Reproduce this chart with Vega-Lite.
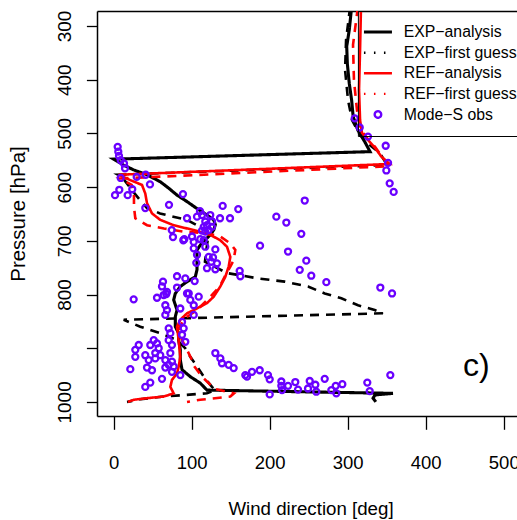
{
  "$schema": "https://vega.github.io/schema/vega-lite/v6.json",
  "width": 420,
  "height": 405,
  "autosize": {"type": "none"},
  "padding": {"left": 97, "top": 11, "right": 0, "bottom": 104},
  "background": "white",
  "config": {
    "font": "Liberation Sans",
    "view": {"stroke": null},
    "axis": {
      "domainColor": "black", "domainWidth": 1.5,
      "tickColor": "black", "tickWidth": 1.3,
      "labelColor": "black", "titleColor": "black",
      "labelFont": "Liberation Sans", "titleFont": "Liberation Sans",
      "titleFontWeight": "normal", "grid": false,
      "labelFlush": false, "labelOverlap": false
    },
    "legend": {
      "padding": 13.2,
      "strokeColor": "black",
      "symbolSize": 100,
      "symbolStrokeWidth": 2.5,
      "symbolOffset": -1.05,
      "labelOffset": 17.9,
      "labelFontSize": 15.8,
      "labelFont": "Liberation Sans",
      "labelColor": "black",
      "labelLimit": 0,
      "rowPadding": 3.6
    }
  },
  "datasets": {
    "profiles": [
      {"s": "EXP−analysis", "i": 0, "d": 305, "p": 265},
      {"s": "EXP−analysis", "i": 1, "d": 302, "p": 307},
      {"s": "EXP−analysis", "i": 2, "d": 298.7, "p": 338},
      {"s": "EXP−analysis", "i": 3, "d": 299.5, "p": 370},
      {"s": "EXP−analysis", "i": 4, "d": 302, "p": 407},
      {"s": "EXP−analysis", "i": 5, "d": 305, "p": 438},
      {"s": "EXP−analysis", "i": 6, "d": 307, "p": 469},
      {"s": "EXP−analysis", "i": 7, "d": 313, "p": 494},
      {"s": "EXP−analysis", "i": 8, "d": 322, "p": 516},
      {"s": "EXP−analysis", "i": 9, "d": 328.6, "p": 534},
      {"s": "EXP−analysis", "i": 10, "d": 0, "p": 548},
      {"s": "EXP−analysis", "i": 11, "d": 12.8, "p": 559},
      {"s": "EXP−analysis", "i": 12, "d": 25.6, "p": 568},
      {"s": "EXP−analysis", "i": 13, "d": 42.7, "p": 577},
      {"s": "EXP−analysis", "i": 14, "d": 59.7, "p": 590},
      {"s": "EXP−analysis", "i": 15, "d": 70.5, "p": 602},
      {"s": "EXP−analysis", "i": 16, "d": 81.2, "p": 615},
      {"s": "EXP−analysis", "i": 17, "d": 94, "p": 627},
      {"s": "EXP−analysis", "i": 18, "d": 106.8, "p": 640},
      {"s": "EXP−analysis", "i": 19, "d": 119.6, "p": 652},
      {"s": "EXP−analysis", "i": 20, "d": 128.2, "p": 661},
      {"s": "EXP−analysis", "i": 21, "d": 130.3, "p": 670},
      {"s": "EXP−analysis", "i": 22, "d": 128.2, "p": 680},
      {"s": "EXP−analysis", "i": 23, "d": 123.8, "p": 689},
      {"s": "EXP−analysis", "i": 24, "d": 117.4, "p": 698},
      {"s": "EXP−analysis", "i": 25, "d": 111, "p": 708},
      {"s": "EXP−analysis", "i": 26, "d": 106.8, "p": 717},
      {"s": "EXP−analysis", "i": 27, "d": 106.8, "p": 736},
      {"s": "EXP−analysis", "i": 28, "d": 106.8, "p": 754},
      {"s": "EXP−analysis", "i": 29, "d": 104.6, "p": 767},
      {"s": "EXP−analysis", "i": 30, "d": 94, "p": 776},
      {"s": "EXP−analysis", "i": 31, "d": 85.4, "p": 785},
      {"s": "EXP−analysis", "i": 32, "d": 79, "p": 798},
      {"s": "EXP−analysis", "i": 33, "d": 76.9, "p": 810},
      {"s": "EXP−analysis", "i": 34, "d": 81.2, "p": 829},
      {"s": "EXP−analysis", "i": 35, "d": 79, "p": 841},
      {"s": "EXP−analysis", "i": 36, "d": 79, "p": 860},
      {"s": "EXP−analysis", "i": 37, "d": 83.3, "p": 872},
      {"s": "EXP−analysis", "i": 38, "d": 83.3, "p": 885},
      {"s": "EXP−analysis", "i": 39, "d": 85.4, "p": 903},
      {"s": "EXP−analysis", "i": 40, "d": 85.4, "p": 922},
      {"s": "EXP−analysis", "i": 41, "d": 87.6, "p": 940},
      {"s": "EXP−analysis", "i": 42, "d": 98.2, "p": 953},
      {"s": "EXP−analysis", "i": 43, "d": 111, "p": 965},
      {"s": "EXP−analysis", "i": 44, "d": 119.6, "p": 978},
      {"s": "EXP−analysis", "i": 45, "d": 358, "p": 984},
      {"s": "EXP−analysis", "i": 46, "d": 335, "p": 987},
      {"s": "EXP−analysis", "i": 47, "d": 332.5, "p": 993},
      {"s": "EXP−analysis", "i": 48, "d": 336, "p": 1000},

      {"s": "EXP−first guess", "i": 0, "d": 303, "p": 265},
      {"s": "EXP−first guess", "i": 1, "d": 297.9, "p": 326},
      {"s": "EXP−first guess", "i": 2, "d": 296.6, "p": 382},
      {"s": "EXP−first guess", "i": 3, "d": 300.4, "p": 438},
      {"s": "EXP−first guess", "i": 4, "d": 305.5, "p": 475},
      {"s": "EXP−first guess", "i": 5, "d": 315.8, "p": 503},
      {"s": "EXP−first guess", "i": 6, "d": 328.6, "p": 522},
      {"s": "EXP−first guess", "i": 7, "d": 341.4, "p": 537},
      {"s": "EXP−first guess", "i": 8, "d": 350.4, "p": 559},
      {"s": "EXP−first guess", "i": 9, "d": 5.5, "p": 577},
      {"s": "EXP−first guess", "i": 10, "d": 10.6, "p": 581},
      {"s": "EXP−first guess", "i": 11, "d": 23, "p": 605},
      {"s": "EXP−first guess", "i": 12, "d": 33.7, "p": 624},
      {"s": "EXP−first guess", "i": 13, "d": 42.7, "p": 639},
      {"s": "EXP−first guess", "i": 14, "d": 59.4, "p": 649},
      {"s": "EXP−first guess", "i": 15, "d": 76.4, "p": 655},
      {"s": "EXP−first guess", "i": 16, "d": 94, "p": 661},
      {"s": "EXP−first guess", "i": 17, "d": 110.6, "p": 674},
      {"s": "EXP−first guess", "i": 18, "d": 121.8, "p": 686},
      {"s": "EXP−first guess", "i": 19, "d": 119.6, "p": 708},
      {"s": "EXP−first guess", "i": 20, "d": 117, "p": 739},
      {"s": "EXP−first guess", "i": 21, "d": 145.2, "p": 760},
      {"s": "EXP−first guess", "i": 22, "d": 185, "p": 770},
      {"s": "EXP−first guess", "i": 23, "d": 219.2, "p": 776},
      {"s": "EXP−first guess", "i": 24, "d": 249.1, "p": 785},
      {"s": "EXP−first guess", "i": 25, "d": 270.5, "p": 798},
      {"s": "EXP−first guess", "i": 26, "d": 291.8, "p": 807},
      {"s": "EXP−first guess", "i": 27, "d": 313.2, "p": 820},
      {"s": "EXP−first guess", "i": 28, "d": 334.6, "p": 829},
      {"s": "EXP−first guess", "i": 29, "d": 345.2, "p": 835},
      {"s": "EXP−first guess", "i": 30, "d": 12.8, "p": 847},
      {"s": "EXP−first guess", "i": 31, "d": 34.1, "p": 860},
      {"s": "EXP−first guess", "i": 32, "d": 59.7, "p": 872},
      {"s": "EXP−first guess", "i": 33, "d": 81.2, "p": 885},
      {"s": "EXP−first guess", "i": 34, "d": 91.8, "p": 900},
      {"s": "EXP−first guess", "i": 35, "d": 98.2, "p": 916},
      {"s": "EXP−first guess", "i": 36, "d": 106.8, "p": 934},
      {"s": "EXP−first guess", "i": 37, "d": 115.4, "p": 953},
      {"s": "EXP−first guess", "i": 38, "d": 126, "p": 972},
      {"s": "EXP−first guess", "i": 39, "d": 130.3, "p": 978},
      {"s": "EXP−first guess", "i": 40, "d": 119.6, "p": 984},
      {"s": "EXP−first guess", "i": 41, "d": 64.1, "p": 990},
      {"s": "EXP−first guess", "i": 42, "d": 34.1, "p": 995},
      {"s": "EXP−first guess", "i": 43, "d": 17.1, "p": 1000},

      {"s": "REF−analysis", "i": 0, "d": 317, "p": 265},
      {"s": "REF−analysis", "i": 1, "d": 315.8, "p": 345},
      {"s": "REF−analysis", "i": 2, "d": 314.5, "p": 419},
      {"s": "REF−analysis", "i": 3, "d": 315.8, "p": 475},
      {"s": "REF−analysis", "i": 4, "d": 318.3, "p": 499},
      {"s": "REF−analysis", "i": 5, "d": 326, "p": 512},
      {"s": "REF−analysis", "i": 6, "d": 335, "p": 527},
      {"s": "REF−analysis", "i": 7, "d": 343, "p": 543},
      {"s": "REF−analysis", "i": 8, "d": 353.8, "p": 557},
      {"s": "REF−analysis", "i": 9, "d": 6.4, "p": 577},
      {"s": "REF−analysis", "i": 10, "d": 21.3, "p": 587},
      {"s": "REF−analysis", "i": 11, "d": 36.3, "p": 596},
      {"s": "REF−analysis", "i": 12, "d": 40.5, "p": 612},
      {"s": "REF−analysis", "i": 13, "d": 42.7, "p": 630},
      {"s": "REF−analysis", "i": 14, "d": 49.1, "p": 649},
      {"s": "REF−analysis", "i": 15, "d": 59.7, "p": 661},
      {"s": "REF−analysis", "i": 16, "d": 76.9, "p": 671},
      {"s": "REF−analysis", "i": 17, "d": 102.6, "p": 680},
      {"s": "REF−analysis", "i": 18, "d": 123.8, "p": 689},
      {"s": "REF−analysis", "i": 19, "d": 136.7, "p": 699},
      {"s": "REF−analysis", "i": 20, "d": 145.2, "p": 711},
      {"s": "REF−analysis", "i": 21, "d": 149.5, "p": 730},
      {"s": "REF−analysis", "i": 22, "d": 147.4, "p": 748},
      {"s": "REF−analysis", "i": 23, "d": 143.1, "p": 767},
      {"s": "REF−analysis", "i": 24, "d": 136.7, "p": 785},
      {"s": "REF−analysis", "i": 25, "d": 128.2, "p": 804},
      {"s": "REF−analysis", "i": 26, "d": 119.6, "p": 816},
      {"s": "REF−analysis", "i": 27, "d": 102.6, "p": 829},
      {"s": "REF−analysis", "i": 28, "d": 94, "p": 835},
      {"s": "REF−analysis", "i": 29, "d": 85.4, "p": 847},
      {"s": "REF−analysis", "i": 30, "d": 81.2, "p": 860},
      {"s": "REF−analysis", "i": 31, "d": 83.3, "p": 885},
      {"s": "REF−analysis", "i": 32, "d": 85.4, "p": 916},
      {"s": "REF−analysis", "i": 33, "d": 83.3, "p": 934},
      {"s": "REF−analysis", "i": 34, "d": 81.2, "p": 947},
      {"s": "REF−analysis", "i": 35, "d": 74.7, "p": 959},
      {"s": "REF−analysis", "i": 36, "d": 72.6, "p": 972},
      {"s": "REF−analysis", "i": 37, "d": 76.9, "p": 984},
      {"s": "REF−analysis", "i": 38, "d": 64.1, "p": 990},
      {"s": "REF−analysis", "i": 39, "d": 42.7, "p": 993},
      {"s": "REF−analysis", "i": 40, "d": 25.6, "p": 996},
      {"s": "REF−analysis", "i": 41, "d": 18.3, "p": 1000},

      {"s": "REF−first guess", "i": 0, "d": 313, "p": 265},
      {"s": "REF−first guess", "i": 1, "d": 306.8, "p": 335},
      {"s": "REF−first guess", "i": 2, "d": 308, "p": 401},
      {"s": "REF−first guess", "i": 3, "d": 311.9, "p": 457},
      {"s": "REF−first guess", "i": 4, "d": 315.8, "p": 490},
      {"s": "REF−first guess", "i": 5, "d": 324.8, "p": 509},
      {"s": "REF−first guess", "i": 6, "d": 335, "p": 525},
      {"s": "REF−first guess", "i": 7, "d": 345.2, "p": 546},
      {"s": "REF−first guess", "i": 8, "d": 354.2, "p": 561},
      {"s": "REF−first guess", "i": 9, "d": 8.1, "p": 584},
      {"s": "REF−first guess", "i": 10, "d": 23, "p": 596},
      {"s": "REF−first guess", "i": 11, "d": 26, "p": 611},
      {"s": "REF−first guess", "i": 12, "d": 26, "p": 637},
      {"s": "REF−first guess", "i": 13, "d": 27.7, "p": 658},
      {"s": "REF−first guess", "i": 14, "d": 42.7, "p": 671},
      {"s": "REF−first guess", "i": 15, "d": 64.5, "p": 677},
      {"s": "REF−first guess", "i": 16, "d": 90.1, "p": 683},
      {"s": "REF−first guess", "i": 17, "d": 119.6, "p": 686},
      {"s": "REF−first guess", "i": 18, "d": 136.7, "p": 692},
      {"s": "REF−first guess", "i": 19, "d": 149.5, "p": 705},
      {"s": "REF−first guess", "i": 20, "d": 155.9, "p": 717},
      {"s": "REF−first guess", "i": 21, "d": 153.8, "p": 736},
      {"s": "REF−first guess", "i": 22, "d": 149.5, "p": 748},
      {"s": "REF−first guess", "i": 23, "d": 144, "p": 762},
      {"s": "REF−first guess", "i": 24, "d": 136.3, "p": 784},
      {"s": "REF−first guess", "i": 25, "d": 123.5, "p": 805},
      {"s": "REF−first guess", "i": 26, "d": 106.8, "p": 829},
      {"s": "REF−first guess", "i": 27, "d": 91.4, "p": 844},
      {"s": "REF−first guess", "i": 28, "d": 83.7, "p": 862},
      {"s": "REF−first guess", "i": 29, "d": 87.6, "p": 885},
      {"s": "REF−first guess", "i": 30, "d": 94, "p": 903},
      {"s": "REF−first guess", "i": 31, "d": 99.1, "p": 918},
      {"s": "REF−first guess", "i": 32, "d": 102.9, "p": 933},
      {"s": "REF−first guess", "i": 33, "d": 114.5, "p": 955},
      {"s": "REF−first guess", "i": 34, "d": 129.9, "p": 976},
      {"s": "REF−first guess", "i": 35, "d": 154.2, "p": 984},
      {"s": "REF−first guess", "i": 36, "d": 149.5, "p": 990},
      {"s": "REF−first guess", "i": 37, "d": 111, "p": 996},
      {"s": "REF−first guess", "i": 38, "d": 94, "p": 1000}
    ],
    "obs": [
      {"s": "Mode−S obs", "d": 5.1, "p": 525}, {"s": "Mode−S obs", "d": 5.9, "p": 534},
      {"s": "Mode−S obs", "d": 6.8, "p": 542}, {"s": "Mode−S obs", "d": 9.0, "p": 550},
      {"s": "Mode−S obs", "d": 13.2, "p": 556}, {"s": "Mode−S obs", "d": 14.5, "p": 565},
      {"s": "Mode−S obs", "d": 9.0, "p": 583}, {"s": "Mode−S obs", "d": 29.5, "p": 581},
      {"s": "Mode−S obs", "d": 41.0, "p": 577}, {"s": "Mode−S obs", "d": 1.7, "p": 615},
      {"s": "Mode−S obs", "d": 7.2, "p": 605}, {"s": "Mode−S obs", "d": 17.9, "p": 615},
      {"s": "Mode−S obs", "d": 23.8, "p": 604}, {"s": "Mode−S obs", "d": 46.5, "p": 595},
      {"s": "Mode−S obs", "d": 40.5, "p": 639}, {"s": "Mode−S obs", "d": 88.8, "p": 613},
      {"s": "Mode−S obs", "d": 70.9, "p": 633}, {"s": "Mode−S obs", "d": 74.4, "p": 680},
      {"s": "Mode−S obs", "d": 76.0, "p": 693}, {"s": "Mode−S obs", "d": 89.2, "p": 699},
      {"s": "Mode−S obs", "d": 110.6, "p": 645}, {"s": "Mode−S obs", "d": 139.7, "p": 635},
      {"s": "Mode−S obs", "d": 159.7, "p": 641}, {"s": "Mode−S obs", "d": 149.1, "p": 658},
      {"s": "Mode−S obs", "d": 136.3, "p": 658}, {"s": "Mode−S obs", "d": 187.6, "p": 709},
      {"s": "Mode−S obs", "d": 113.2, "p": 652}, {"s": "Mode−S obs", "d": 123.8, "p": 652},
      {"s": "Mode−S obs", "d": 106.8, "p": 655}, {"s": "Mode−S obs", "d": 94.0, "p": 658},
      {"s": "Mode−S obs", "d": 117.4, "p": 664}, {"s": "Mode−S obs", "d": 126.0, "p": 664},
      {"s": "Mode−S obs", "d": 119.6, "p": 671}, {"s": "Mode−S obs", "d": 115.4, "p": 674},
      {"s": "Mode−S obs", "d": 126.0, "p": 674}, {"s": "Mode−S obs", "d": 121.8, "p": 680},
      {"s": "Mode−S obs", "d": 113.2, "p": 681}, {"s": "Mode−S obs", "d": 117.4, "p": 683},
      {"s": "Mode−S obs", "d": 90.5, "p": 697}, {"s": "Mode−S obs", "d": 100.4, "p": 692},
      {"s": "Mode−S obs", "d": 102.6, "p": 702}, {"s": "Mode−S obs", "d": 111.0, "p": 697},
      {"s": "Mode−S obs", "d": 115.4, "p": 699}, {"s": "Mode−S obs", "d": 117.4, "p": 711},
      {"s": "Mode−S obs", "d": 102.6, "p": 714}, {"s": "Mode−S obs", "d": 106.8, "p": 726},
      {"s": "Mode−S obs", "d": 121.8, "p": 730}, {"s": "Mode−S obs", "d": 130.3, "p": 716},
      {"s": "Mode−S obs", "d": 127.3, "p": 731}, {"s": "Mode−S obs", "d": 125.1, "p": 739},
      {"s": "Mode−S obs", "d": 132.4, "p": 742}, {"s": "Mode−S obs", "d": 119.6, "p": 751},
      {"s": "Mode−S obs", "d": 130.3, "p": 753}, {"s": "Mode−S obs", "d": 161.5, "p": 756},
      {"s": "Mode−S obs", "d": 162.3, "p": 766}, {"s": "Mode−S obs", "d": 105.9, "p": 741},
      {"s": "Mode−S obs", "d": 81.2, "p": 766}, {"s": "Mode−S obs", "d": 91.8, "p": 770},
      {"s": "Mode−S obs", "d": 103.8, "p": 775}, {"s": "Mode−S obs", "d": 63.2, "p": 776},
      {"s": "Mode−S obs", "d": 61.9, "p": 785}, {"s": "Mode−S obs", "d": 81.2, "p": 787},
      {"s": "Mode−S obs", "d": 67.4, "p": 799}, {"s": "Mode−S obs", "d": 94.0, "p": 798},
      {"s": "Mode−S obs", "d": 109.0, "p": 804}, {"s": "Mode−S obs", "d": 55.5, "p": 806},
      {"s": "Mode−S obs", "d": 25.6, "p": 809},
      {"s": "Mode−S obs", "d": 309, "p": 472}, {"s": "Mode−S obs", "d": 315.4, "p": 489},
      {"s": "Mode−S obs", "d": 326, "p": 506}, {"s": "Mode−S obs", "d": 348.7, "p": 523},
      {"s": "Mode−S obs", "d": 351.7, "p": 555}, {"s": "Mode−S obs", "d": 349.5, "p": 569},
      {"s": "Mode−S obs", "d": 353.8, "p": 593}, {"s": "Mode−S obs", "d": 358.9, "p": 609},
      {"s": "Mode−S obs", "d": 244.9, "p": 625}, {"s": "Mode−S obs", "d": 208.5, "p": 655},
      {"s": "Mode−S obs", "d": 221.3, "p": 666}, {"s": "Mode−S obs", "d": 240.5, "p": 687},
      {"s": "Mode−S obs", "d": 223.5, "p": 720}, {"s": "Mode−S obs", "d": 246.9, "p": 737},
      {"s": "Mode−S obs", "d": 238.5, "p": 754}, {"s": "Mode−S obs", "d": 253.3, "p": 765},
      {"s": "Mode−S obs", "d": 272.6, "p": 777}, {"s": "Mode−S obs", "d": 341.8, "p": 787},
      {"s": "Mode−S obs", "d": 356.8, "p": 798},
      {"s": "Mode−S obs", "d": 187.2, "p": 941}, {"s": "Mode−S obs", "d": 197.8, "p": 950},
      {"s": "Mode−S obs", "d": 200, "p": 958}, {"s": "Mode−S obs", "d": 200, "p": 986},
      {"s": "Mode−S obs", "d": 214.9, "p": 962}, {"s": "Mode−S obs", "d": 214.9, "p": 970},
      {"s": "Mode−S obs", "d": 215.8, "p": 978}, {"s": "Mode−S obs", "d": 223.5, "p": 970},
      {"s": "Mode−S obs", "d": 232.8, "p": 963}, {"s": "Mode−S obs", "d": 236.3, "p": 977},
      {"s": "Mode−S obs", "d": 249.1, "p": 975}, {"s": "Mode−S obs", "d": 251.3, "p": 961},
      {"s": "Mode−S obs", "d": 258.5, "p": 968}, {"s": "Mode−S obs", "d": 259.7, "p": 981},
      {"s": "Mode−S obs", "d": 270.5, "p": 957}, {"s": "Mode−S obs", "d": 279, "p": 978},
      {"s": "Mode−S obs", "d": 284.6, "p": 970}, {"s": "Mode−S obs", "d": 285.4, "p": 984},
      {"s": "Mode−S obs", "d": 293.1, "p": 967}, {"s": "Mode−S obs", "d": 325.1, "p": 964},
      {"s": "Mode−S obs", "d": 328.2, "p": 980}, {"s": "Mode−S obs", "d": 354.6, "p": 950},
      {"s": "Mode−S obs", "d": 130.3, "p": 909}, {"s": "Mode−S obs", "d": 136.7, "p": 919},
      {"s": "Mode−S obs", "d": 138.8, "p": 928}, {"s": "Mode−S obs", "d": 147.4, "p": 931},
      {"s": "Mode−S obs", "d": 153.8, "p": 937}, {"s": "Mode−S obs", "d": 168.7, "p": 950},
      {"s": "Mode−S obs", "d": 170.9, "p": 953}, {"s": "Mode−S obs", "d": 177.3, "p": 944},
      {"s": "Mode−S obs", "d": 64.1, "p": 801}, {"s": "Mode−S obs", "d": 68.3, "p": 795},
      {"s": "Mode−S obs", "d": 66.2, "p": 820}, {"s": "Mode−S obs", "d": 68.3, "p": 829},
      {"s": "Mode−S obs", "d": 66.2, "p": 838}, {"s": "Mode−S obs", "d": 85.4, "p": 826},
      {"s": "Mode−S obs", "d": 96.2, "p": 798}, {"s": "Mode−S obs", "d": 98.2, "p": 810},
      {"s": "Mode−S obs", "d": 102.6, "p": 820}, {"s": "Mode−S obs", "d": 102.6, "p": 838},
      {"s": "Mode−S obs", "d": 87.6, "p": 851}, {"s": "Mode−S obs", "d": 89.7, "p": 863},
      {"s": "Mode−S obs", "d": 87.6, "p": 875}, {"s": "Mode−S obs", "d": 91.8, "p": 888},
      {"s": "Mode−S obs", "d": 70.5, "p": 863}, {"s": "Mode−S obs", "d": 72.6, "p": 872},
      {"s": "Mode−S obs", "d": 70.5, "p": 885}, {"s": "Mode−S obs", "d": 74.7, "p": 894},
      {"s": "Mode−S obs", "d": 32.1, "p": 894}, {"s": "Mode−S obs", "d": 27.7, "p": 903},
      {"s": "Mode−S obs", "d": 27.7, "p": 916}, {"s": "Mode−S obs", "d": 46.9, "p": 894},
      {"s": "Mode−S obs", "d": 51.3, "p": 885}, {"s": "Mode−S obs", "d": 55.5, "p": 891},
      {"s": "Mode−S obs", "d": 57.7, "p": 900}, {"s": "Mode−S obs", "d": 53.3, "p": 909},
      {"s": "Mode−S obs", "d": 59.7, "p": 913}, {"s": "Mode−S obs", "d": 40.5, "p": 913},
      {"s": "Mode−S obs", "d": 44.9, "p": 922}, {"s": "Mode−S obs", "d": 53.3, "p": 919},
      {"s": "Mode−S obs", "d": 72.6, "p": 909}, {"s": "Mode−S obs", "d": 66.2, "p": 922},
      {"s": "Mode−S obs", "d": 74.7, "p": 925}, {"s": "Mode−S obs", "d": 70.5, "p": 931},
      {"s": "Mode−S obs", "d": 66.2, "p": 936}, {"s": "Mode−S obs", "d": 76.9, "p": 934},
      {"s": "Mode−S obs", "d": 74.7, "p": 944}, {"s": "Mode−S obs", "d": 21.3, "p": 939},
      {"s": "Mode−S obs", "d": 42.7, "p": 936}, {"s": "Mode−S obs", "d": 49.1, "p": 941},
      {"s": "Mode−S obs", "d": 61.9, "p": 957}, {"s": "Mode−S obs", "d": 46.9, "p": 964},
      {"s": "Mode−S obs", "d": 40.5, "p": 972}, {"s": "Mode−S obs", "d": 85.4, "p": 950}
    ],
    "panel": [
      {"label": "c)", "d": 465, "p": 933}
    ]
  },
  "layer": [
    {
      "data": {"name": "profiles"},
      "mark": {"type": "line", "clip": true},
      "encoding": {
        "x": {
          "field": "d", "type": "quantitative",
          "scale": {"domain": [-21.4, 517], "nice": false, "zero": false},
          "axis": {
            "orient": "bottom",
            "values": [0, 100, 200, 300, 400, 500],
            "format": "d",
            "tickSize": 13.3,
            "labelFontSize": 18.5,
            "labelPadding": 24,
            "title": "Wind direction [deg]",
            "titleFontSize": 18.7,
            "titleX": 213.5,
            "titleY": 98.5,
            "titleAlign": "center",
            "titleBaseline": "alphabetic"
          }
        },
        "y": {
          "field": "p", "type": "quantitative",
          "scale": {"domain": [272.1, 1026.2], "reverse": true, "nice": false, "zero": false},
          "axis": {
            "values": [300, 400, 500, 600, 700, 800, 900, 1000],
            "format": "d",
            "labelExpr": "datum.value == 900 ? '' : datum.label",
            "tickSize": 10.6,
            "labelFontSize": 19,
            "labelAngle": 270,
            "labelAlign": "center",
            "labelBaseline": "alphabetic",
            "labelPadding": 16,
            "title": "Pressure [hPa]",
            "titleFontSize": 20.5,
            "titleAngle": 270,
            "titleX": -73,
            "titleY": 202.5,
            "titleAlign": "center",
            "titleBaseline": "alphabetic"
          }
        },
        "color": {
          "field": "s", "type": "nominal",
          "scale": {
            "domain": ["EXP−analysis", "EXP−first guess", "REF−analysis", "REF−first guess", "Mode−S obs"],
            "range": ["#000000", "#000000", "#ff0000", "#ff0000", "#6a00ff"]
          },
          "legend": {
            "title": null,
            "orient": "none",
            "legendX": 260.9,
            "legendY": 0,
            "direction": "vertical",
            "encode": {
              "symbols": {
                "update": {
                  "shape": {"signal": "datum.value === 'Mode−S obs' ? 'M0.65,0A0.65,0.65 0 1,1 -0.65,0A0.65,0.65 0 1,1 0.65,0Z' : 'M-2.8,0H2.8'"},
                  "strokeDash": {"signal": "indexof(datum.value, 'first') >= 0 ? [1.5, 8.5] : [1, 0]"},
                  "strokeWidth": {"signal": "datum.value === 'EXP−analysis' ? 3 : 2.4"},
                  "fill": {"value": "transparent"}
                }
              }
            }
          }
        },
        "strokeDash": {
          "condition": {"test": "indexof(datum.s, 'first') >= 0", "value": [9, 7]},
          "value": [1, 0]
        },
        "strokeWidth": {
          "condition": {"test": "datum.s === 'EXP−analysis'", "value": 3.1},
          "value": 2.6
        },
        "order": {"field": "i", "type": "quantitative"}
      }
    },
    {
      "data": {"name": "obs"},
      "mark": {"type": "point", "shape": "circle", "filled": false, "size": 36, "strokeWidth": 2.3, "opacity": 1},
      "encoding": {
        "x": {
          "field": "d", "type": "quantitative",
          "axis": {"orient": "top", "domain": true, "ticks": false, "labels": false, "title": null, "grid": false}
        },
        "y": {"field": "p", "type": "quantitative"},
        "color": {
          "field": "s", "type": "nominal",
          "legend": {
            "title": null,
            "orient": "none",
            "legendX": 260.9,
            "legendY": 0,
            "direction": "vertical",
            "encode": {
              "symbols": {
                "update": {
                  "shape": {"signal": "datum.value === 'Mode−S obs' ? 'M0.65,0A0.65,0.65 0 1,1 -0.65,0A0.65,0.65 0 1,1 0.65,0Z' : 'M-2.8,0H2.8'"},
                  "strokeDash": {"signal": "indexof(datum.value, 'first') >= 0 ? [1.5, 8.5] : [1, 0]"},
                  "strokeWidth": {"signal": "datum.value === 'EXP−analysis' ? 3 : 2.4"},
                  "fill": {"value": "transparent"}
                }
              }
            }
          }
        }
      }
    },
    {
      "data": {"name": "panel"},
      "mark": {"type": "text", "fontSize": 32, "font": "Liberation Sans", "align": "center", "baseline": "middle", "color": "black"},
      "encoding": {
        "x": {"field": "d", "type": "quantitative", "axis": null},
        "y": {"field": "p", "type": "quantitative"},
        "text": {"field": "label"}
      }
    }
  ],
  "resolve": {"axis": {"x": "independent"}}
}
